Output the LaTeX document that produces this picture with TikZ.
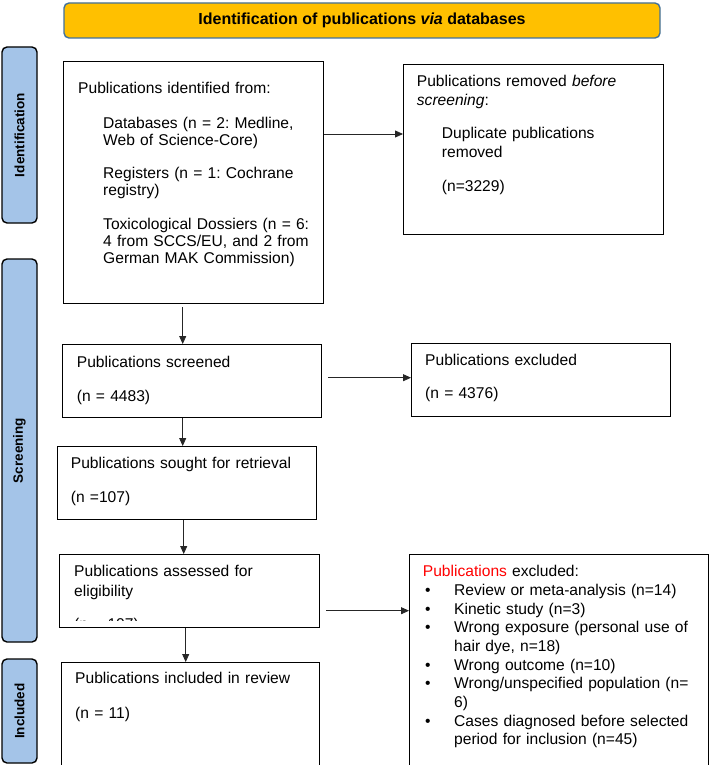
\documentclass[tikz,border=0pt]{standalone}
\usepackage{fontspec}
\setmainfont{Liberation Sans}
\usetikzlibrary{arrows.meta}
\definecolor{bannerfill}{HTML}{FFC000}
\definecolor{bannerdraw}{HTML}{41719C}
\definecolor{labelfill}{HTML}{A4C4E8}
\newcommand{\pbul}{\hspace*{2.3pt}\makebox[29pt][l]{\textbullet}}
\newcommand{\pind}{\hspace*{25pt}}
\frenchspacing
\begin{document}
\begin{tikzpicture}[x=1pt,y=-1pt,
  box/.style={draw=black, line width=1.4pt, anchor=north west, inner sep=0pt},
  txt/.style={anchor=base west, inner sep=0pt, align=left, text width=#1},
  txt/.default=280pt,
  lbl/.style={draw=black, line width=1.4pt, fill=labelfill, rounded corners=5pt, rotate=90, font=\fontsize{13.5}{16}\selectfont\bfseries, inner sep=0pt, minimum height=35pt},
  arr/.style={draw=black!85, line width=0.8pt, -{Triangle[length=8pt,width=7pt]}},
]
\clip (0,0) rectangle (709,765);
\fill[white] (0,0) rectangle (709,765);

% banner
\node[draw=bannerdraw, line width=1.4pt, fill=bannerfill, rounded corners=5pt, minimum width=596pt, minimum height=35pt, inner sep=0pt, font=\fontsize{16}{19}\selectfont\bfseries] (ban) at (362,20.5) {Identification of publications \textit{via} databases};

% side labels
\node[lbl, minimum width=176pt] (L1) at (19.5,135) {Identification};
\node[lbl, minimum width=383pt] (L2) at (19.5,450.5) {Screening};
\node[lbl, minimum width=104pt] (L3) at (19.5,711) {Included};

% boxes
\node[box, minimum width=260pt, minimum height=242pt] (b1) at (63,61) {};
\node[box, minimum width=260pt, minimum height=170pt] (b2) at (403,64) {};
\node[box, minimum width=259pt, minimum height=73pt] (b3) at (62,344) {};
\node[box, minimum width=259pt, minimum height=73pt] (b4) at (411,343) {};
\node[box, minimum width=259pt, minimum height=73pt] (b5) at (57,446) {};
\node[box, minimum width=260pt, minimum height=73pt] (b6) at (59,554) {};
\node[box, minimum width=258pt, minimum height=115pt] (b7) at (61,662) {};
\node[box, minimum width=299pt, minimum height=220pt] (b8) at (409,554) {};

% texts
\node[txt, font=\fontsize{15.6}{16.7}\selectfont] (t1) at (78,93.6) {Publications identified from:\\[18.3pt]
\pind Databases (n = 2: Medline,\\
\pind Web of Science-Core)\\[16.3pt]
\pind Registers (n = 1: Cochrane\\
\pind registry)\\[18.3pt]
\pind Toxicological Dossiers (n = 6:\\
\pind 4 from SCCS/EU, and 2 from\\
\pind German MAK Commission)};

\node[txt, font=\fontsize{15.6}{19.3}\selectfont] (t2) at (416.7,86.3) {Publications removed \textit{before}\\
\textit{screening}:\\[13.7pt]
\pind Duplicate publications\\
\pind removed\\[14pt]
\pind (n=3229)};

\node[txt, font=\fontsize{15.6}{18.7}\selectfont] (t3) at (76.7,367.3) {Publications screened\\[15.6pt] (n = 4483)};
\node[txt, font=\fontsize{15.6}{18.7}\selectfont] (t4) at (425,365.6) {Publications excluded\\[14.6pt] (n = 4376)};
\node[txt, font=\fontsize{15.6}{18.7}\selectfont] (t5) at (70.7,468.3) {Publications sought for retrieval\\[15.3pt] (n =107)};
\node[txt, font=\fontsize{15.6}{20}\selectfont] (t6) at (74,576.6) {Publications assessed for\\ eligibility};
\begin{scope}
\clip (59,554) rectangle (319,620.5);
\node[txt, font=\fontsize{15.6}{18.7}\selectfont] (t6b) at (74,629) {(n = 107)};
\end{scope}
\node[txt, font=\fontsize{15.6}{18.7}\selectfont] (t7) at (75,683.9) {Publications included in review\\[16.3pt] (n = 11)};

\node[txt=285pt, font=\fontsize{15.6}{18.7}\selectfont] (t8) at (422.7,576.6) {{\color{red}Publications} excluded:\\
\pbul Review or meta-analysis (n=14)\\
\pbul Kinetic study (n=3)\\
\pbul Wrong exposure (personal use of\\
\hspace*{31.3pt}hair dye, n=18)\\
\pbul Wrong outcome (n=10)\\
\pbul Wrong/unspecified population (n=\\
\hspace*{31.3pt}6)\\
\pbul Cases diagnosed before selected\\
\hspace*{31.3pt}period for inclusion (n=45)};

% connectors
\coordinate (a12) at ([yshift=-73pt]b1.north east);
\draw[arr] (a12) -- (a12 -| b2.west);
\coordinate (a13) at ([xshift=-11pt,yshift=-3pt]b1.south);
\draw[arr] (a13) -- (a13 |- b3.north);
\coordinate (a34) at ([xshift=6pt,yshift=3.5pt]b3.east);
\draw[arr] (a34) -- (a34 -| b4.west);
\coordinate (a35) at ([xshift=-9.5pt]b3.south);
\draw[arr] (a35) -- (a35 |- b5.north);
\coordinate (a56) at ([xshift=-3.5pt]b5.south);
\draw[arr] (a56) -- (a56 |- b6.north);
\coordinate (a68) at ([xshift=6pt,yshift=-19.5pt]b6.east);
\draw[arr] (a68) -- (a68 -| b8.west);
\coordinate (a67) at ([xshift=-4pt]b6.south);
\draw[arr] (a67) -- (a67 |- b7.north);
\end{tikzpicture}
\end{document}
